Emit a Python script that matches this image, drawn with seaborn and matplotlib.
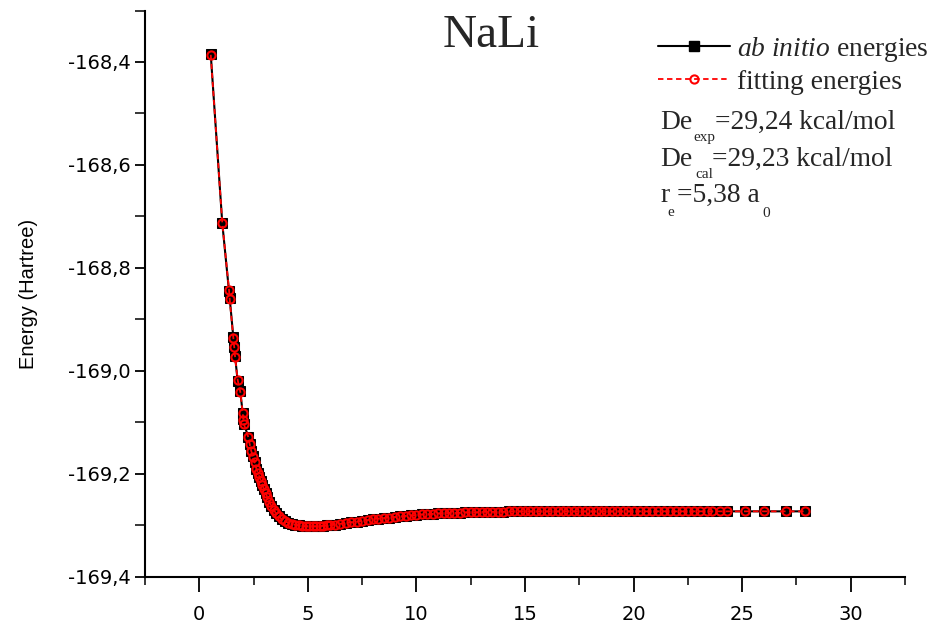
import matplotlib

matplotlib.use("Agg")

import matplotlib.pyplot as plt
import seaborn as sns
from matplotlib.lines import Line2D
from matplotlib.ticker import FuncFormatter, MultipleLocator


# internuclear distance (bohr) and energies (Hartree)
R_AB = [
    0.53, 1.06, 1.37, 1.40, 1.57, 1.61, 1.65, 1.77, 1.89, 2.00, 2.03, 2.06,
    2.26, 2.32, 2.39, 2.47, 2.55, 2.63, 2.70, 2.77, 2.84, 2.91, 2.98, 3.06,
    3.14, 3.22, 3.31, 3.42, 3.54, 3.66, 3.80, 3.95, 4.10, 4.26, 4.42, 4.58,
    4.74, 4.90, 5.06, 5.22, 5.38, 5.54, 5.70, 5.86, 6.00, 6.25, 6.50, 6.75,
    7.00, 7.25, 7.50, 7.75, 8.00, 8.25, 8.50, 8.75, 9.00, 9.25, 9.50, 9.75,
    10.00, 10.25, 10.50, 10.75, 11.00, 11.25, 11.50, 11.75, 12.00, 12.25, 12.50, 12.75,
    13.00, 13.25, 13.50, 13.75, 14.00, 14.25, 14.50, 14.75, 15.00, 15.25, 15.50, 15.75,
    16.00, 16.25, 16.50, 16.75, 17.00, 17.25, 17.50, 17.75, 18.00, 18.25, 18.50, 18.75,
    19.00, 19.25, 19.50, 19.75, 20.00, 20.28, 20.56, 20.84, 21.12, 21.40, 21.68, 21.96,
    22.24, 22.52, 22.80, 23.08, 23.36, 23.60, 24.00, 24.30, 25.13, 26.00, 27.00, 27.90,
]
E_AB = [
    -168.385, -168.713, -168.845, -168.858, -168.935, -168.953, -168.972, -169.020,
    -169.040, -169.082, -169.094, -169.104, -169.128, -169.142, -169.155, -169.166,
    -169.177, -169.190, -169.198, -169.206, -169.214, -169.222, -169.230, -169.238,
    -169.246, -169.254, -169.262, -169.270, -169.277, -169.283, -169.288, -169.292,
    -169.295, -169.297, -169.299, -169.300, -169.301, -169.302, -169.302, -169.302,
    -169.302, -169.302, -169.301, -169.300, -169.300, -169.299, -169.297, -169.296,
    -169.294, -169.293, -169.291, -169.290, -169.288, -169.287, -169.286, -169.285,
    -169.284, -169.283, -169.282, -169.281, -169.280, -169.279, -169.279, -169.278,
    -169.277, -169.277, -169.276, -169.276, -169.276, -169.275, -169.275, -169.275,
    -169.274, -169.274, -169.274, -169.274, -169.274, -169.273, -169.273, -169.273,
    -169.273, -169.273, -169.273, -169.273, -169.273, -169.273, -169.273, -169.273,
    -169.273, -169.273, -169.273, -169.273, -169.273, -169.273, -169.273, -169.273,
    -169.273, -169.273, -169.273, -169.273, -169.273, -169.273, -169.273, -169.273,
    -169.273, -169.273, -169.273, -169.273, -169.273, -169.273, -169.273, -169.273,
    -169.273, -169.273, -169.273, -169.273, -169.273, -169.273, -169.273, -169.273,
]
E_FIT = [
    -168.386, -168.712, -168.842, -168.860, -168.936, -168.954, -168.973, -169.018,
    -169.041, -169.081, -169.095, -169.104, -169.129, -169.142, -169.155, -169.167,
    -169.178, -169.190, -169.198, -169.206, -169.214, -169.222, -169.230, -169.238,
    -169.246, -169.254, -169.262, -169.270, -169.277, -169.283, -169.288, -169.292,
    -169.295, -169.297, -169.299, -169.300, -169.301, -169.302, -169.302, -169.302,
    -169.302, -169.302, -169.301, -169.300, -169.300, -169.299, -169.297, -169.296,
    -169.294, -169.293, -169.291, -169.290, -169.288, -169.287, -169.286, -169.285,
    -169.284, -169.283, -169.282, -169.281, -169.280, -169.279, -169.279, -169.278,
    -169.277, -169.277, -169.276, -169.276, -169.276, -169.275, -169.275, -169.275,
    -169.274, -169.274, -169.274, -169.274, -169.274, -169.273, -169.273, -169.273,
    -169.273, -169.273, -169.273, -169.273, -169.273, -169.273, -169.273, -169.273,
    -169.273, -169.273, -169.273, -169.273, -169.273, -169.273, -169.273, -169.273,
    -169.273, -169.273, -169.273, -169.273, -169.273, -169.273, -169.273, -169.273,
    -169.273, -169.273, -169.273, -169.273, -169.273, -169.273, -169.273, -169.273,
    -169.273, -169.273, -169.273, -169.273, -169.273, -169.273, -169.273, -169.273,
]

X_TICKS = [0, 5, 10, 15, 20, 25, 30]
Y_TICKS = [-169.4, -169.2, -169.0, -168.8, -168.6, -168.4]

# (text, size) pieces of each note line; subscripts are the small ones
NOTES = [
    [("De", 19.8), ("exp", 11), ("=29,24 kcal/mol", 19.8)],
    [("De", 19.8), ("cal", 11), ("=29,23 kcal/mol", 19.8)],
    [("r", 19.8), ("e", 11), ("=5,38 a", 19.8), ("0", 11)],
]

SERIF = "Liberation Serif"
SANS = "Liberation Sans"
W, H = 931, 623


def comma_fmt(v, _pos):
    return f"{v:.1f}".replace(".", ",")


def px_text(fig, x, y, s, **kw):
    # place text by pixel position, y measured from the top
    return fig.text(x / W, 1 - y / H, s, family=SERIF, va="baseline", ha="left", **kw)


def main() -> None:
    sns.set_theme(style="ticks")
    plt.rcParams["font.family"] = [SANS, "DejaVu Sans"]
    plt.rcParams["mathtext.fontset"] = "custom"
    plt.rcParams["mathtext.rm"] = SERIF
    plt.rcParams["mathtext.it"] = f"{SERIF}:italic"

    fig = plt.figure(figsize=(W / 100, H / 100), dpi=100)
    ax = fig.add_axes([0.1557, 0.0743, 0.8164, 0.9088])

    sns.lineplot(
        x=R_AB, y=E_AB, sort=False, ax=ax, color="black", linewidth=1.5,
        marker="s", markersize=6.6, markeredgecolor="black", markerfacecolor="black",
        zorder=2,
    )
    sns.lineplot(
        x=R_AB, y=E_FIT, sort=False, ax=ax, color="red", linewidth=1.3,
        linestyle=(0, (3, 2)),
        marker="o", markersize=5.9, markerfacecolor="none", markeredgecolor="red",
        markeredgewidth=1.5, zorder=3,
    )

    ax.set_xlim(-2.5, 32.5)
    ax.set_ylim(-169.4, -168.30)
    ax.set_xticks(X_TICKS)
    ax.set_yticks(Y_TICKS)
    ax.xaxis.set_minor_locator(MultipleLocator(2.5))
    ax.yaxis.set_minor_locator(MultipleLocator(0.1))
    ax.yaxis.set_major_formatter(FuncFormatter(comma_fmt))

    for side in ("top", "right"):
        ax.spines[side].set_visible(False)
    for side in ("left", "bottom"):
        ax.spines[side].set_linewidth(1.5)
        ax.spines[side].set_color("black")

    ax.tick_params(axis="x", which="major", direction="out", length=10.5, width=1.3,
                   pad=10, colors="black")
    ax.tick_params(axis="x", which="minor", direction="out", length=5.5, width=1.3)
    ax.tick_params(axis="y", which="major", direction="out", length=7, width=1.3,
                   pad=3, colors="black")
    ax.tick_params(axis="y", which="minor", direction="out", length=7, width=1.3)
    for lab in ax.get_xticklabels() + ax.get_yticklabels():
        lab.set_family("DejaVu Sans")
        lab.set_fontsize(14)

    ax.set_xlabel("")
    ax.set_ylabel("Energy (Hartree)", fontsize=14.5, labelpad=22, color="black")

    fig.text(0.528, 0.943, "NaLi", family=SERIF, fontsize=34, ha="center", va="center")

    handles = [
        Line2D([], [], color="black", linewidth=1.5, marker="s", markersize=6.6),
        Line2D([], [], color="red", linewidth=1.3, linestyle=(0, (3, 2)), marker="o",
               markersize=5.9, markerfacecolor="none", markeredgewidth=1.5),
    ]
    labels = [r"$\it{ab\ initio}$ energies", "fitting energies"]
    fig.legend(
        handles, labels, loc="upper left", bbox_to_anchor=(0.6915, 0.966),
        frameon=False, prop={"family": SERIF, "size": 19.8},
        handlelength=2.65, handletextpad=0.25, labelspacing=0.2, borderpad=0,
    )

    # pixel positions (x start, baseline) of each note piece
    note_pos = [
        [(660, 129), (693, 141), (715, 129)],
        [(660, 166), (695, 178), (712, 166)],
        [(660, 202), (667, 216), (677, 202), (762, 217)],
    ]
    for pieces, spots in zip(NOTES, note_pos):
        for (s, size), (x, y) in zip(pieces, spots):
            px_text(fig, x, y, s, fontsize=size)

    fig.savefig("out.png", dpi=100, facecolor="white")
    plt.close(fig)


if __name__ == "__main__":
    main()
